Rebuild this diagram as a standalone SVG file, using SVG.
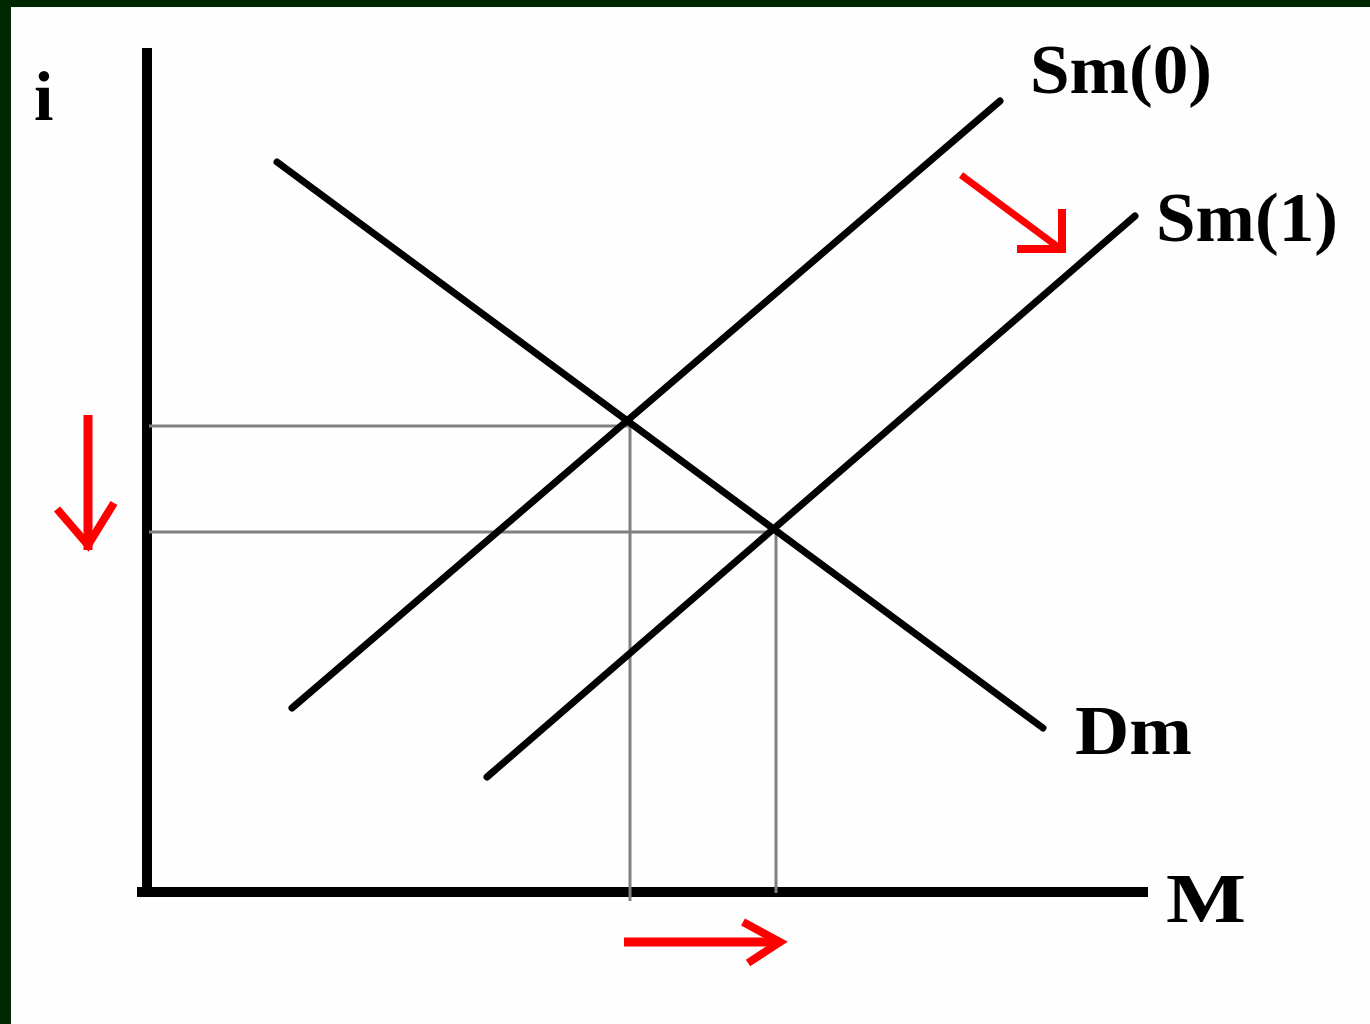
<svg xmlns="http://www.w3.org/2000/svg" width="1370" height="1024" viewBox="0 0 1370 1024">
<defs>
<style>
.axis{stroke:#000;stroke-width:10;fill:none}
.curve{stroke:#000;stroke-width:7;fill:none;stroke-linecap:round}
.guide{stroke:#808080;stroke-width:3;fill:none}
.red{stroke:#ff0000;stroke-width:9;fill:none}
.lbl{font-family:"Liberation Serif","Times New Roman",serif;font-weight:bold;font-size:70px;fill:#000}
</style>
</defs>
<rect x="0" y="0" width="1370" height="1024" fill="#002800"/>
<rect x="11" y="7" width="1359" height="1017" fill="#fefefe"/>
<g id="axes">
<line class="axis" x1="147" y1="48" x2="147" y2="897"/>
<line class="axis" x1="137" y1="892" x2="1148" y2="892"/>
</g>
<g id="guides">
<line class="guide" x1="149" y1="426" x2="630" y2="426"/>
<line class="guide" x1="149" y1="532" x2="776" y2="532"/>
<line class="guide" x1="630" y1="426" x2="630" y2="901"/>
<line class="guide" x1="776" y1="532" x2="776" y2="893"/>
</g>
<g id="connectors">
<line id="Dm-curve" class="curve" x1="277" y1="162" x2="1043" y2="728"/>
<line id="Sm0-curve" class="curve" x1="292" y1="708" x2="1000" y2="101"/>
<line id="Sm1-curve" class="curve" x1="487" y1="777" x2="1135" y2="216"/>
</g>
<g id="red-arrows">
<line stroke="#ff0000" stroke-width="7" x1="961" y1="175" x2="1058" y2="247"/>
<polyline fill="none" stroke="#ff0000" stroke-width="8" points="1017,249 1062,249 1062,209"/>
<line class="red" x1="88" y1="415" x2="88" y2="550"/>
<polyline fill="none" stroke="#ff0000" stroke-width="8" points="57,509 88,545 114,503"/>
<line class="red" x1="624" y1="942" x2="780" y2="942"/>
<polyline fill="none" stroke="#ff0000" stroke-width="8" points="743,922 780,942 748,963"/>
</g>
<g id="label-i"><text class="lbl" x="34" y="120">i</text></g>
<g id="label-Sm0"><text class="lbl" x="1030" y="93" textLength="182" lengthAdjust="spacingAndGlyphs">Sm(0)</text></g>
<g id="label-Sm1"><text class="lbl" x="1156" y="241" textLength="182" lengthAdjust="spacingAndGlyphs">Sm(1)</text></g>
<g id="label-Dm"><text class="lbl" x="1075" y="754" textLength="117" lengthAdjust="spacingAndGlyphs">Dm</text></g>
<g id="label-M"><text class="lbl" x="1166" y="922" textLength="80" lengthAdjust="spacingAndGlyphs">M</text></g>
</svg>
